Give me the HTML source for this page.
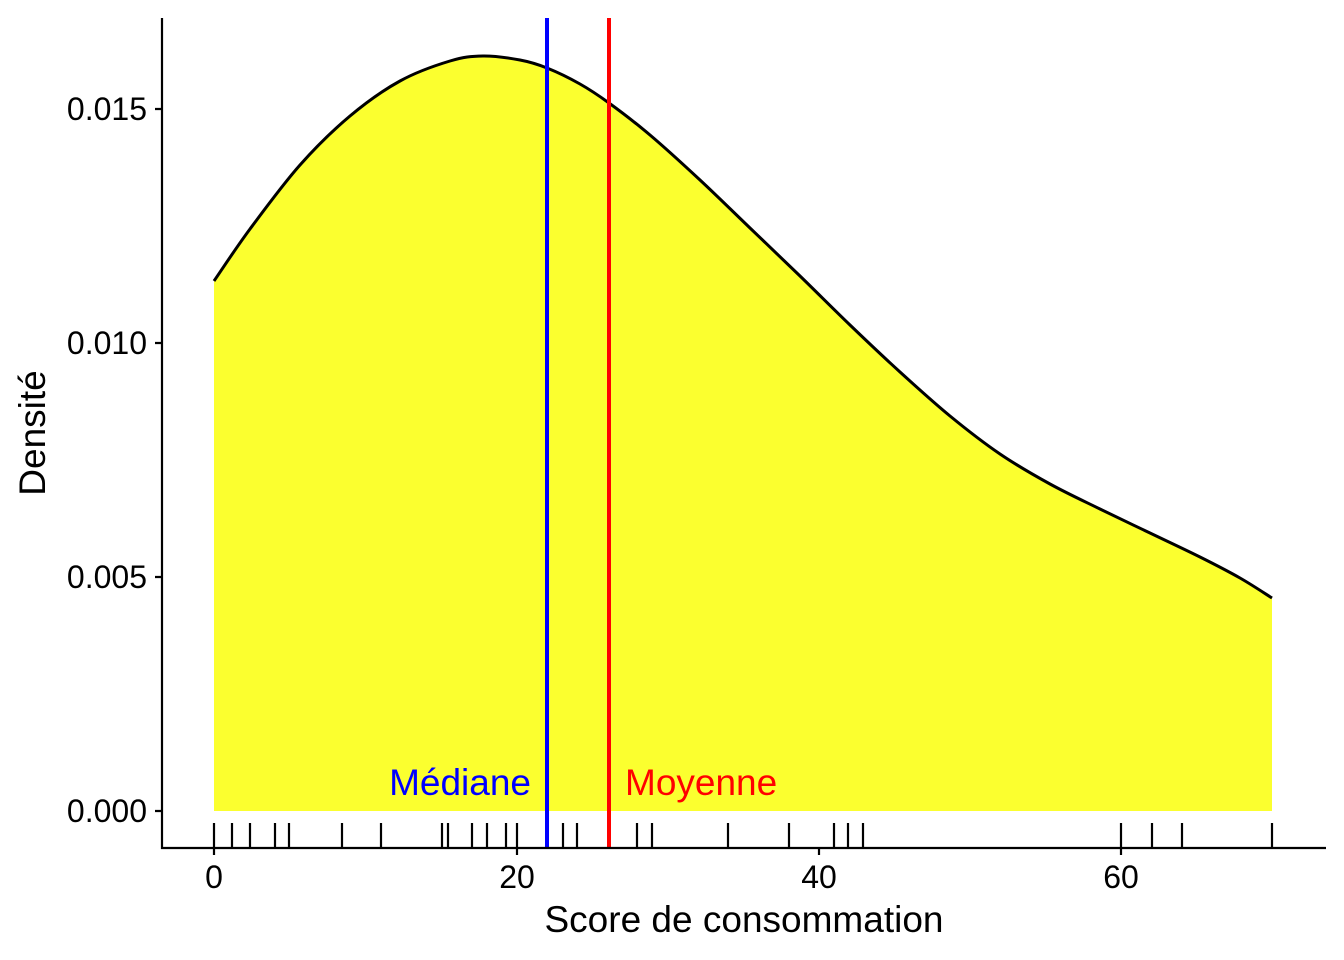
<!DOCTYPE html>
<html><head><meta charset="utf-8"><style>body{margin:0;background:#fff}svg{display:block}text{font-family:"Liberation Sans",sans-serif}</style></head><body>
<svg width="1344" height="960" viewBox="0 0 1344 960">
<path id="fill" d="" fill="#fbff2f"/>
<path id="curve" d="" fill="none" stroke="#000" stroke-width="3"/>
<line x1="547" y1="18" x2="547" y2="848" stroke="#0000ff" stroke-width="4"/>
<line x1="609" y1="18" x2="609" y2="848" stroke="#ff0000" stroke-width="4"/>
<g stroke="#000" stroke-width="2.2">
<path d="M214,823V848M232,823V848M250,823V848M275,823V848M289,823V848M342,823V848M381,823V848M442,823V848M448,823V848M472,823V848M487,823V848M506,823V848M517,823V848M563,823V848M577,823V848M637,823V848M652,823V848M728,823V848M789,823V848M834,823V848M848,823V848M863,823V848M1121,823V848M1152,823V848M1182,823V848M1272,823V848"/>
<path d="M162,18V848H1326" fill="none"/>
<path d="M155,109H162M155,343H162M155,577H162M155,811H162M214,848V855M517,848V855M819,848V855M1121,848V855"/>
</g>
<g font-size="32" fill="#000">
<text x="147" y="120" text-anchor="end">0.015</text>
<text x="147" y="354" text-anchor="end">0.010</text>
<text x="147" y="588" text-anchor="end">0.005</text>
<text x="147" y="822" text-anchor="end">0.000</text>
<text x="214" y="888" text-anchor="middle">0</text>
<text x="517" y="888" text-anchor="middle">20</text>
<text x="819" y="888" text-anchor="middle">40</text>
<text x="1121" y="888" text-anchor="middle">60</text>
</g>
<text x="744" y="932" font-size="37" text-anchor="middle">Score de consommation</text>
<text transform="translate(45,433) rotate(-90)" font-size="37" text-anchor="middle">Densité</text>
<text x="531" y="795" font-size="37" fill="#0000ff" text-anchor="end">Médiane</text>
<text x="625" y="795" font-size="37" fill="#ff0000">Moyenne</text>
</svg>
<script>
var p=[[214,281],[250,229],[300,165],[350,116],[400,81],[450,61],[483,56],[520,60],[547,68],[580,84],[609,103],[650,135],[700,180],[750,228],[800,276],[850,325],[900,372],[950,416],[1000,454],[1050,484],[1100,509],[1150,533],[1200,557],[1240,578],[1272,598]];
var d="M"+p[0][0]+","+p[0][1];
for(var i=0;i<p.length-1;i++){var a=p[Math.max(i-1,0)],b=p[i],c=p[i+1],e=p[Math.min(i+2,p.length-1)];
d+=" C"+(b[0]+(c[0]-a[0])/6)+","+(b[1]+(c[1]-a[1])/6)+" "+(c[0]-(e[0]-b[0])/6)+","+(c[1]-(e[1]-b[1])/6)+" "+c[0]+","+c[1];}
document.getElementById("curve").setAttribute("d",d);
document.getElementById("fill").setAttribute("d",d+" L1272,811 L214,811 Z");
</script>
</body></html>
